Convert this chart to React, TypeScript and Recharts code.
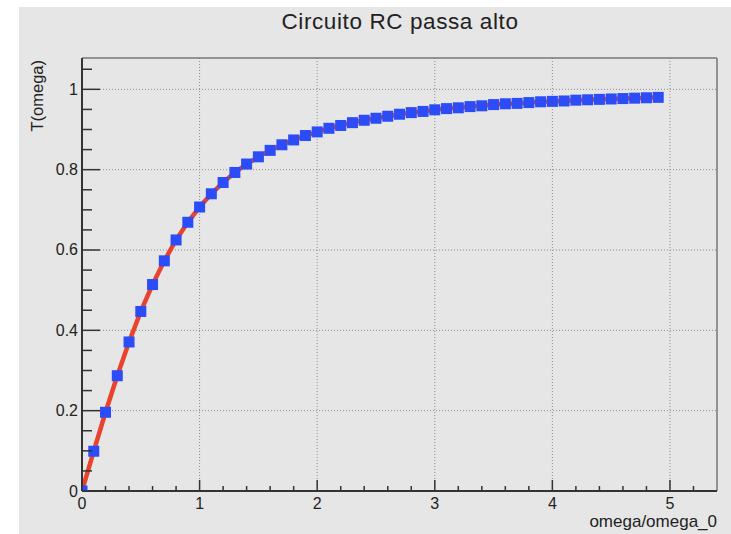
import React from 'react';
import {
  LineChart,
  Line,
  XAxis,
  YAxis,
  CartesianGrid,
  ReferenceLine,
} from 'recharts';

// omega/omega_0 and T(omega)
const omegaRatio = [
  0, 0.1, 0.2, 0.3, 0.4, 0.5, 0.6, 0.7, 0.8, 0.9,
  1, 1.1, 1.2, 1.3, 1.4, 1.5, 1.6, 1.7, 1.8, 1.9,
  2, 2.1, 2.2, 2.3, 2.4, 2.5, 2.6, 2.7, 2.8, 2.9,
  3, 3.1, 3.2, 3.3, 3.4, 3.5, 3.6, 3.7, 3.8, 3.9,
  4, 4.1, 4.2, 4.3, 4.4, 4.5, 4.6, 4.7, 4.8, 4.9,
];
const transfer = [
  0, 0.099, 0.196, 0.287, 0.371, 0.447, 0.514, 0.573, 0.625, 0.669,
  0.707, 0.74, 0.768, 0.793, 0.814, 0.832, 0.848, 0.862, 0.874, 0.885,
  0.894, 0.903, 0.91, 0.917, 0.923, 0.928, 0.933, 0.938, 0.942, 0.945,
  0.949, 0.952, 0.954, 0.957, 0.959, 0.962, 0.964, 0.965, 0.967, 0.969,
  0.97, 0.971, 0.973, 0.974, 0.975, 0.976, 0.977, 0.978, 0.979, 0.98,
];

const xTicks = [0, 0.2, 0.4, 0.6, 0.8, 1, 1.2, 1.4, 1.6, 1.8, 2, 2.2, 2.4, 2.6, 2.8, 3, 3.2, 3.4, 3.6, 3.8, 4, 4.2, 4.4, 4.6, 4.8, 5, 5.2];
const xMajor = [0, 1, 2, 3, 4, 5];
const yTicks = [0, 0.05, 0.1, 0.15, 0.2, 0.25, 0.3, 0.35, 0.4, 0.45, 0.5, 0.55, 0.6, 0.65, 0.7, 0.75, 0.8, 0.85, 0.9, 0.95, 1, 1.05];
const yMajor = [0, 0.2, 0.4, 0.6, 0.8, 1];
const xMax = 5.4;
const yMax = 1.078;

const data = omegaRatio.map((x, i) => ({ x, t: transfer[i] }));

const FONT = '"Liberation Sans", Arial, sans-serif';
const TEXT = '#222';
const AXIS = '#333';

// ticks point into the frame, like ROOT
function XTick(props: any) {
  const { x, y, payload } = props;
  const major = xMajor.includes(payload.value);
  return (
    <g>
      <line x1={x} x2={x} y1={y} y2={y - (major ? 11 : 5)} stroke={AXIS} strokeWidth={1.5} />
      {major && (
        <text x={x} y={y + 18} textAnchor="middle" fontSize={16} fontFamily={FONT} fill={TEXT}>
          {payload.value}
        </text>
      )}
    </g>
  );
}

function YTick(props: any) {
  const { x, y, payload } = props;
  const major = yMajor.includes(payload.value);
  return (
    <g>
      <line x1={x} x2={x + (major ? 18 : 10)} y1={y} y2={y} stroke={AXIS} strokeWidth={1.5} />
      {major && (
        <text x={x - 4} y={y + 5.5} textAnchor="end" fontSize={16} fontFamily={FONT} fill={TEXT}>
          {payload.value}
        </text>
      )}
    </g>
  );
}

function SquareDot(props: any) {
  const { cx, cy, index } = props;
  return <rect key={index} x={cx - 5.5} y={cy - 5.5} width={11} height={11} fill="#2b4cf6" />;
}

export default function App() {
  return (
    <div style={{ position: 'absolute', left: 0, top: 0, width: 731, height: 534, background: '#fff', overflow: 'hidden' }}>
      <div style={{ position: 'absolute', left: 19, top: 7, right: 0, bottom: 0, background: '#e6e6e6' }} />
      <div style={{ position: 'absolute', left: 0, top: 0 }}>
        <LineChart width={731} height={534} data={data} margin={{ top: 58, right: 14, left: 22, bottom: 13 }}>
          <CartesianGrid
            horizontal
            vertical
            horizontalValues={[0.2, 0.4, 0.6, 0.8, 1]}
            verticalValues={[1, 2, 3, 4, 5]}
            stroke="#8c8c8c"
            strokeDasharray="1 2"
          />
          <XAxis
            type="number"
            dataKey="x"
            domain={[0, xMax]}
            ticks={xTicks}
            interval={0}
            height={30}
            tickSize={0}
            tickMargin={0}
            tickLine={false}
            tick={<XTick />}
            axisLine={{ stroke: AXIS, strokeWidth: 2 }}
            allowDataOverflow
          />
          <YAxis
            type="number"
            domain={[0, yMax]}
            ticks={yTicks}
            interval={0}
            width={60}
            tickSize={0}
            tickMargin={0}
            tickLine={false}
            tick={<YTick />}
            axisLine={{ stroke: AXIS, strokeWidth: 2 }}
            allowDataOverflow
          />
          <ReferenceLine y={yMax} stroke="#777" strokeWidth={1.5} />
          <ReferenceLine x={xMax} stroke="#777" strokeWidth={1.5} />
          <Line
            type="linear"
            dataKey="t"
            stroke="#e8432d"
            strokeWidth={4.5}
            dot={SquareDot}
            activeDot={false}
            isAnimationActive={false}
          />
        </LineChart>
      </div>
      <svg width={731} height={534} style={{ position: 'absolute', left: 0, top: 0, pointerEvents: 'none' }}>
        <text x={400} y={29} textAnchor="middle" fontSize={22.5} letterSpacing={0.6} fontFamily={FONT} fill={TEXT}>
          Circuito RC passa alto
        </text>
        <text
          x={43}
          y={60}
          transform="rotate(-90, 43, 60)"
          textAnchor="end"
          fontSize={16.5}
          fontFamily={FONT}
          fill={TEXT}
        >
          T(omega)
        </text>
        <text x={717} y={527} textAnchor="end" fontSize={17} fontFamily={FONT} fill={TEXT}>
          omega/omega_0
        </text>
      </svg>
    </div>
  );
}
